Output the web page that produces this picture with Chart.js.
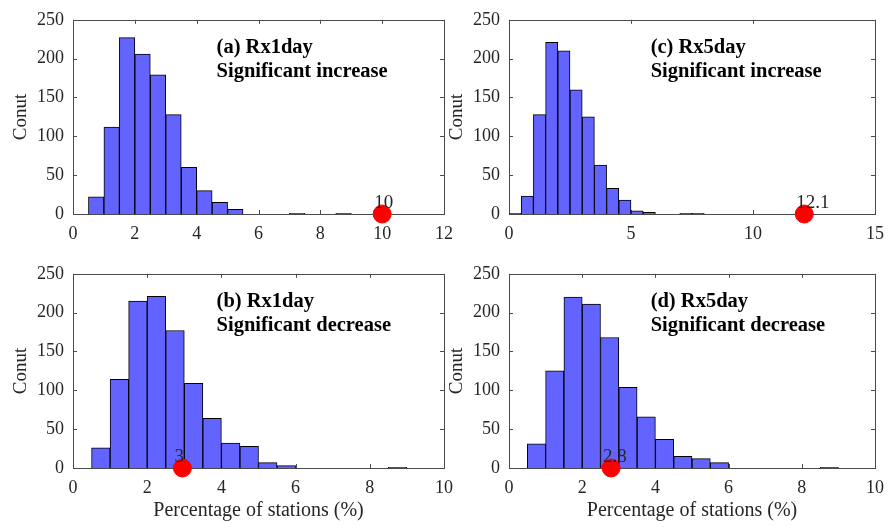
<!DOCTYPE html>
<html>
<head>
<meta charset="utf-8">
<title>Histograms</title>
<script src="https://cdn.jsdelivr.net/npm/chart.js@4.4.0/dist/chart.umd.min.js"></script>
<style>
  body { margin: 0; background: #fff; }
  #wrap { position: relative; width: 893px; height: 527px; overflow: hidden; }
  canvas { position: absolute; }
</style>
</head>
<body>
<div id="wrap">
  <canvas id="chart-a" width="462" height="250" style="left:0;top:0"></canvas>
  <canvas id="chart-c" width="457" height="250" style="left:436px;top:0"></canvas>
  <canvas id="chart-b" width="462" height="273" style="left:0;top:254px"></canvas>
  <canvas id="chart-d" width="457" height="273" style="left:436px;top:254px"></canvas>
</div>
<script>
'use strict';

// ******** DATA *******

// every histogram uses 0.5 wide bins starting at 0
let binWidth = 0.5;

// counts per bin: [0-0.5), [0.5-1), [1-1.5) ...
let countsA = [0, 22, 112, 227, 206, 179, 128, 60, 30, 15, 6, 0, 0, 0, 1, 0, 0, 1];
let countsB = [0, 26, 114, 215, 221, 177, 109, 64, 32, 28, 7, 3, 0, 0, 0, 0, 0, 1];
let countsC = [1, 23, 128, 221, 210, 160, 125, 63, 33, 18, 4, 2, 0, 0, 1, 1];
let countsD = [0, 31, 125, 220, 211, 168, 104, 66, 37, 15, 12, 7, 0, 0, 0, 0, 0, 1];

// red dot on the x axis + its label
let dotA = 10;   let dotLabelA = '10';
let dotB = 2.95; let dotLabelB = '3';
let dotC = 12.1; let dotLabelC = '12.1';
let dotD = 2.79; let dotLabelD = '2.8';

// axis ranges / tick steps
let yMax = 250;  let yStep = 50;
let xMaxA = 12;  let xStepA = 2;
let xMaxB = 10;  let xStepB = 2;
let xMaxC = 15;  let xStepC = 5;
let xMaxD = 10;  let xStepD = 2;

let titleA = ['(a) Rx1day', 'Significant increase'];
let titleB = ['(b) Rx1day', 'Significant decrease'];
let titleC = ['(c) Rx5day', 'Significant increase'];
let titleD = ['(d) Rx5day', 'Significant decrease'];

let yTitle = 'Conut';
let xTitle = 'Percentage of stations (%)';

const FONT = "'Liberation Serif', 'Times New Roman', serif";
const INK = '#262626';
const BAR_COLOR = 'rgb(99,99,255)';


// ******** PLUGINS *******

// MATLAB style box with inward ticks on all four sides
const boxPlugin = {
  id: 'box',
  beforeDatasetsDraw(chart) {
    const ctx = chart.ctx;
    const a = chart.chartArea;
    const x = chart.scales.x;
    const y = chart.scales.y;
    ctx.save();
    ctx.strokeStyle = '#4a4a4a';
    ctx.lineWidth = 1;
    ctx.strokeRect(Math.round(a.left) + 0.5, Math.round(a.top) + 0.5,
      Math.round(a.right - a.left), Math.round(a.bottom - a.top));
    ctx.beginPath();
    for (let i = 0; i < x.ticks.length; i++) {
      let px = Math.round(x.getPixelForValue(x.ticks[i].value)) + 0.5;
      ctx.moveTo(px, a.bottom); ctx.lineTo(px, a.bottom - 4);
      ctx.moveTo(px, a.top); ctx.lineTo(px, a.top + 4);
    }
    for (let i = 0; i < y.ticks.length; i++) {
      let py = Math.round(y.getPixelForValue(y.ticks[i].value)) + 0.5;
      ctx.moveTo(a.left, py); ctx.lineTo(a.left + 4, py);
      ctx.moveTo(a.right, py); ctx.lineTo(a.right - 4, py);
    }
    ctx.stroke();
    ctx.restore();
  }
};

// panel title + label next to the red dot
const textPlugin = {
  id: 'panelText',
  afterDatasetsDraw(chart, args, opts) {
    const ctx = chart.ctx;
    const a = chart.chartArea;
    const x = chart.scales.x;
    const y = chart.scales.y;
    ctx.save();
    ctx.fillStyle = '#000';
    ctx.textAlign = 'left';
    ctx.textBaseline = 'alphabetic';
    ctx.font = 'bold 20.5px ' + FONT;
    let tx = a.left + (a.right - a.left) * 0.387;
    ctx.fillText(opts.title[0], tx, a.top + 33);
    ctx.fillText(opts.title[1], tx, a.top + 57);

    ctx.font = '19px ' + FONT;
    ctx.fillStyle = INK;
    let dx = x.getPixelForValue(opts.dotX);
    let dy = y.getPixelForValue(0);
    ctx.fillText(opts.dotLabel, dx - 8, dy - 6);
    ctx.restore();
  }
};


// ******** CHART BUILDER *******

function makeChart(id, counts, xMax, xStep, dotX, dotLabel, title, bottomRow, rightPad) {
  let bars = [];
  for (let i = 0; i < counts.length; i++) {
    bars.push({ x: (i + 0.5) * binWidth, y: counts[i] });
  }

  let chartObject = {
    type: 'bar',
    data: {
      datasets: [{
        type: 'scatter',
        data: [{ x: dotX, y: 0 }],
        backgroundColor: '#ff0000',
        borderColor: '#ff0000',
        pointRadius: 9,
        clip: false,
        order: 0
      },
      {
        data: bars,
        backgroundColor: BAR_COLOR,
        borderColor: '#000',
        borderWidth: 1,
        barPercentage: 1,
        categoryPercentage: 1,
        order: 1
      }]
    },
    options: {
      responsive: false,
      animation: false,
      events: [],
      layout: { padding: { top: 14, right: rightPad, left: 0, bottom: 0 } },
      plugins: {
        legend: { display: false },
        tooltip: { enabled: false },
        panelText: { title: title, dotX: dotX, dotLabel: dotLabel }
      },
      scales: {
        x: {
          type: 'linear',
          offset: false,
          min: 0,
          max: xMax,
          grid: { display: false, drawTicks: false },
          border: { display: false },
          ticks: { stepSize: xStep, color: INK, padding: 9, font: { family: FONT, size: 18 }, maxRotation: 0 },
          title: { display: bottomRow, text: xTitle, color: INK, padding: { top: 0, bottom: 4 }, font: { family: FONT, size: 20 } },
          afterFit(scale) { scale.height = bottomRow ? 59 : 36; }
        },
        y: {
          min: 0,
          max: yMax,
          grid: { display: false, drawTicks: false },
          border: { display: false },
          ticks: { stepSize: yStep, color: INK, padding: 9, font: { family: FONT, size: 18 } },
          title: { display: true, text: yTitle, color: INK, padding: { top: 10, bottom: 0 }, font: { family: FONT, size: 19 } },
          afterFit(scale) { scale.width = 73; }
        }
      }
    },
    plugins: [boxPlugin, textPlugin]
  };

  return new Chart(document.getElementById(id), chartObject);
}

makeChart('chart-a', countsA, xMaxA, xStepA, dotA, dotLabelA, titleA, false, 17);
makeChart('chart-c', countsC, xMaxC, xStepC, dotC, dotLabelC, titleC, false, 13);
makeChart('chart-b', countsB, xMaxB, xStepB, dotB, dotLabelB, titleB, true, 17);
makeChart('chart-d', countsD, xMaxD, xStepD, dotD, dotLabelD, titleD, true, 13);
</script>
</body>
</html>
